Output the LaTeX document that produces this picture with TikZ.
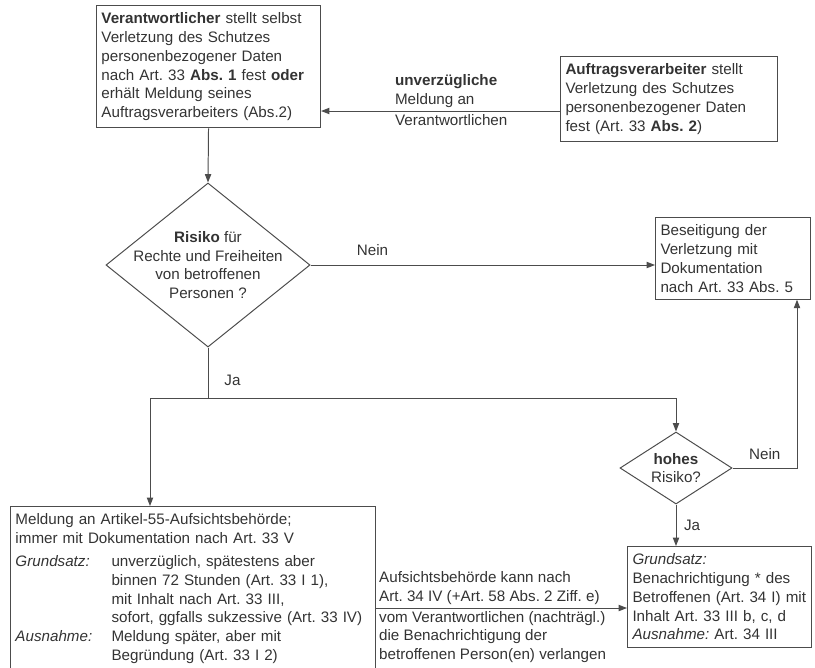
\documentclass[tikz,border=0pt]{standalone}
\usepackage{fontspec}
\setmainfont{Liberation Sans}
\usetikzlibrary{shapes.geometric,arrows.meta}
\frenchspacing

\begin{document}
\begin{tikzpicture}[x=0.025cm,y=-0.025cm,
  font=\fontsize{10.8}{13.4}\selectfont,
  every node/.style={text=black!80},
  kasten/.style={draw=black!70,line width=0.7pt,anchor=north west,align=left,inner xsep=0.125cm,inner ysep=5pt},
  raute/.style={diamond,draw=black!70,line width=0.7pt,align=center,inner sep=-10pt},
  linie/.style={draw=black!70,line width=0.7pt},
  pfeil/.style={linie,-{Triangle[length=6pt,width=4.5pt]}}]

\useasboundingbox (0,0) rectangle (815,667);

% Kaesten
\node[kasten,text width=5.35cm] (verant) at (96,5) {\textbf{Verantwortlicher} stellt selbst\\Verletzung des Schutzes\\personenbezogener Daten\\nach Art. 33 \textbf{Abs. 1} fest \textbf{oder}\\erhält Meldung seines\\Auftragsverarbeiters (Abs.2)};
\node[kasten,text width=5.175cm] (auftrag) at (560,56) {\textbf{Auftragsverarbeiter} stellt\\Verletzung des Schutzes\\personenbezogener Daten\\fest (Art. 33 \textbf{Abs. 2})};
\node[kasten,text width=3.625cm] (besei) at (655,217) {Beseitigung der\\Verletzung mit\\Dokumentation\\nach Art. 33 Abs. 5};
\node[kasten,text width=8.875cm] (meldung) at (10,506) {Meldung an Artikel-55-Aufsichtsbehörde;\\immer mit Dokumentation nach Art. 33 V\\[3pt]
  \makebox[2.4cm][l]{\textit{Grundsatz:}}unverzüglich, spätestens aber\\
  \hspace*{2.4cm}binnen 72 Stunden (Art. 33 I 1),\\
  \hspace*{2.4cm}mit Inhalt nach Art. 33 III,\\
  \hspace*{2.4cm}sofort, ggfalls sukzessive (Art. 33 IV)\\
  \makebox[2.4cm][l]{\textit{Ausnahme:}}Meldung später, aber mit\\
  \hspace*{2.4cm}Begründung (Art. 33 I 2)};
\node[kasten,text width=4.35cm] (benach) at (627,546) {\textit{Grundsatz:}\\Benachrichtigung * des\\Betroffenen (Art. 34 I) mit\\Inhalt Art. 33 III b, c, d\\\textit{Ausnahme:} Art. 34 III};

% Entscheidungen
\node[raute,minimum width=5.1cm,minimum height=4.1cm] (risiko) at (208,265) {\textbf{Risiko} für\\Rechte und Freiheiten\\von betroffenen\\Personen ?};
\node[raute,minimum width=2.8cm,minimum height=1.8cm] (hoch) at (676,468) {\textbf{hohes}\\Risiko?};

\coordinate (mhoehe) at (0,111);
\coordinate (ja) at (150,398);
\coordinate (jb) at (676,398);
\coordinate (rechts) at (797,0);
\coordinate (apfeil) at (0,608);

% Verbindungen
\draw[pfeil] (auftrag.west |- mhoehe) -- (verant.east |- mhoehe);
\node[anchor=south west,align=left,inner sep=2pt] (mlabel) at (392,111) {\textbf{unverzügliche}\\Meldung an};
\node[anchor=north west,inner sep=2pt] (mlabel2) at (392,111) {Verantwortlichen};

\draw[pfeil] (verant.south) -- (risiko.north);
\draw[pfeil] (risiko.east) -- (risiko.east -| besei.west) node[pos=0.18,above=3pt] {Nein};
\draw[linie] (risiko.south) -- (risiko.south |- ja) node[pos=0.65,right=8pt] {Ja};
\draw[linie] (ja) -- (jb);
\draw[pfeil] (ja) -- (ja |- meldung.north);
\draw[pfeil] (jb) -- (hoch.north);
\draw[pfeil] (hoch.south) -- (hoch.south |- benach.north) node[midway,right=2pt] {Ja};
\draw[pfeil] (hoch.east) -| (rechts |- besei.south) node[pos=0.25,above=2pt] {Nein};

\draw[pfeil] (meldung.east |- apfeil) -- (benach.west |- apfeil);
\node[anchor=south west,align=left,inner sep=2pt] (auflabel) at (meldung.east |- apfeil) {Aufsichtsbehörde kann nach\\Art. 34 IV (+Art. 58 Abs. 2 Ziff. e)};
\node[anchor=north west,align=left,inner sep=2pt] (vomlabel) at (meldung.east |- apfeil) {vom Verantwortlichen (nachträgl.)\\die Benachrichtigung der\\betroffenen Person(en) verlangen};
\end{tikzpicture}
\end{document}
